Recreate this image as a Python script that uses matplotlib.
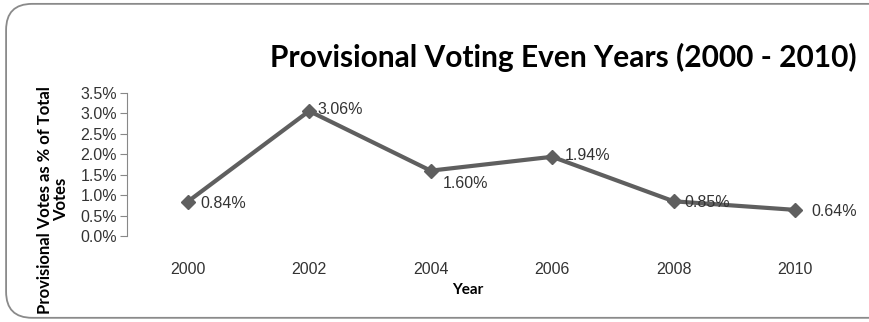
import numpy as np
import matplotlib.pyplot as plt
from matplotlib.patches import FancyBboxPatch

# provisional ballots as share of total votes, even years
years = ['2000', '2002', '2004', '2006', '2008', '2010']
pct = [0.84, 3.06, 1.60, 1.94, 0.85, 0.64]
yticks = [0.0, 0.5, 1.0, 1.5, 2.0, 2.5, 3.0, 3.5]

fig = plt.figure(figsize=(8.69, 3.22), dpi=100)
ax = fig.add_axes([0.146, 0.267, 0.839, 0.444])

# rounded frame around the whole chart
box = FancyBboxPatch((0.007, 0.013), 1.05, 0.975, transform=fig.transFigure,
                     boxstyle='round,pad=0,rounding_size=0.03',
                     facecolor='none', edgecolor='#8a8a8a', lw=1.3,
                     mutation_aspect=869/322)
fig.patches.append(box)

x = np.arange(len(years))
ax.plot(x, pct, '-D', color='#5f5f5f', lw=3, ms=7, mec='#5f5f5f')

# value labels beside each point
offsets = [(9, -1), (6, 1), (9, -9), (9, 1), (8, -1), (12, -1)]
tick_font = dict(family='Liberation Sans', fontsize=11.5, color='#333333')
for xi, v, off in zip(x, pct, offsets):
    ax.annotate(f'{v:.2f}%', (xi, v), xytext=off, textcoords='offset points',
                ha='left', va='center', **tick_font)

ax.set_xlim(-0.5, len(years) - 0.5)
ax.set_ylim(0, 3.5)
ax.set_yticks(yticks)
ax.set_yticklabels([f'{t:.1f}%' for t in yticks], **tick_font)
ax.set_xticks(x)
ax.set_xticklabels(years, **tick_font)
ax.tick_params(axis='x', length=0, pad=19)
ax.tick_params(axis='y', length=5, color='#888888', pad=2)

for s in ['top', 'right', 'bottom']:
    ax.spines[s].set_visible(False)
ax.spines['left'].set_color('#888888')

ax.set_xlabel('Year', family='Lato', fontweight='bold', fontsize=11, labelpad=3)
ax.xaxis.set_label_coords(0.467, -0.33)
fig.text(0.061, 0.38, 'Provisional Votes as % of Total\nVotes', rotation=90,
         ha='center', va='center', family='Lato', fontweight='bold', fontsize=12,
         linespacing=0.95)

fig.text(0.648, 0.822, 'Provisional Voting Even Years (2000 - 2010)',
         ha='center', va='center', family='Lato', fontweight='bold',
         fontsize=21.5, color='black')

fig.savefig('out.png', dpi=100)
